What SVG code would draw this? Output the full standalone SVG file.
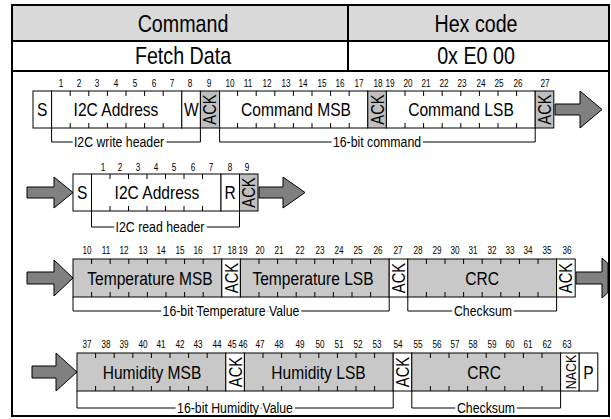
<svg xmlns="http://www.w3.org/2000/svg" width="611" height="419" viewBox="0 0 611 419">
<style>
text{font-family:"Liberation Sans",Arial,sans-serif;fill:#000;text-anchor:middle}
.hd{font-size:24px}
.num{font-size:10px}
.lbl{font-size:19px}
.ack{font-size:18px}
.bt{font-size:15px;stroke:#fff;stroke-width:6;paint-order:stroke}
.tb{fill:none;stroke:#000;stroke-width:2}
.bx{stroke:#000;stroke-width:1}
.w{fill:#fff}
.g{fill:#bfbfbf}
.d{fill:#c8c8c8}
.tk{fill:none;stroke:#000;stroke-width:1}
.br{fill:none;stroke:#000;stroke-width:1}
.ar{fill:#808080;stroke:#000;stroke-width:1}
</style>
<rect x="0" y="0" width="611" height="419" fill="#fff"/>
<g id="table">
<rect x="12" y="5" width="597" height="36" fill="#d9d9d9"/>
<text class="hd" transform="translate(183,31.5) scale(.82,1)">Command</text>
<text class="hd" transform="translate(476,31.5) scale(.82,1)">Hex code</text>
<text class="hd" transform="translate(183,64) scale(.82,1)">Fetch Data</text>
<text class="hd" transform="translate(476,64) scale(.82,1)">0x E0 00</text>
</g>

<g id="connectors">
<path class="br" d="M51.6,128 V142 H200.4 V128"/>
<path class="br" d="M219.6,128 V142 H535.2 V128"/>
<path class="br" d="M91.5,211 V227 H239.5 V211"/>
<path class="br" d="M73,297 V311 H389.2 V297"/>
<path class="br" d="M407.8,297 V311 H556.6 V297"/>
<path class="br" d="M77,391 V408 H393.2 V391"/>
<path class="br" d="M411.8,391 V408 H560.6 V391"/>
<path class="ar" d="M555,104 H580 V91 L602,109.5 L580,128 V115 H555 Z"/>
<path class="ar" d="M27,187 H54 V177 L73,192.5 L54,208 V198 H27 Z"/>
<path class="ar" d="M259,187 H283 V177 L305,192.5 L283,208 V198 H259 Z"/>
<path class="ar" d="M27,272 H54 V260 L73,278 L54,296 V284 H27 Z"/>
<path class="ar" d="M576,272 H602 V258 L608,263.5 V292.5 L602,298 V284 H576 Z"/>
<path class="ar" d="M32,366 H56 V353 L77,372 L56,391 V378 H32 Z"/>
<text class="bt" transform="translate(119,147.4) scale(.82,1)">I2C write header</text>
<text class="bt" transform="translate(377,147.4) scale(.82,1)">16-bit command</text>
<text class="bt" transform="translate(160,232.4) scale(.82,1)">I2C read header</text>
<text class="bt" transform="translate(231,316.4) scale(.82,1)">16-bit Temperature Value</text>
<text class="bt" transform="translate(483,316.4) scale(.82,1)">Checksum</text>
<text class="bt" transform="translate(235,413.4) scale(.82,1)">16-bit Humidity Value</text>
<text class="bt" transform="translate(486,413.4) scale(.82,1)">Checksum</text>
</g>

<g id="write-header">
<rect class="bx w" x="33" y="91" width="18.6" height="37"/>
<text class="lbl" transform="translate(42.3,116.3) scale(.82,1)">S</text>
<rect class="bx w" x="51.6" y="91" width="130.2" height="37"/>
<path class="tk" d="M70.2,91v5M88.8,91v5M107.4,91v5M126,91v5M144.6,91v5M163.2,91v5M70.2,128v-5M88.8,128v-5M107.4,128v-5M126,128v-5M144.6,128v-5M163.2,128v-5"/>
<text class="lbl" transform="translate(116,116.3) scale(.82,1)">I2C Address</text>
<rect class="bx w" x="181.8" y="91" width="18.6" height="37"/>
<text class="lbl" transform="translate(191.3,116.3) scale(.82,1)">W</text>
<rect class="bx g" x="200.4" y="91" width="19.2" height="37"/>
<text class="ack" transform="translate(210,109.5) rotate(-90) scale(.82,1)" dy="6.4">ACK</text>
</g>

<g id="command">
<rect class="bx w" x="219.6" y="91" width="148.2" height="37"/>
<path class="tk" d="M237.6,91v5M256.2,91v5M274.8,91v5M293.4,91v5M312,91v5M330.6,91v5M349.2,91v5M237.6,128v-5M256.2,128v-5M274.8,128v-5M293.4,128v-5M312,128v-5M330.6,128v-5M349.2,128v-5"/>
<text class="lbl" transform="translate(296,116.3) scale(.82,1)">Command MSB</text>
<rect class="bx g" x="367.8" y="91" width="18.6" height="37"/>
<text class="ack" transform="translate(377.1,109.5) rotate(-90) scale(.82,1)" dy="6.4">ACK</text>
<rect class="bx w" x="386.4" y="91" width="148.8" height="37"/>
<path class="tk" d="M405,91v5M423.6,91v5M442.2,91v5M460.8,91v5M479.4,91v5M498,91v5M516.6,91v5M405,128v-5M423.6,128v-5M442.2,128v-5M460.8,128v-5M479.4,128v-5M498,128v-5M516.6,128v-5"/>
<text class="lbl" transform="translate(461,116.3) scale(.82,1)">Command LSB</text>
<rect class="bx g" x="535.2" y="91" width="18.6" height="37"/>
<text class="ack" transform="translate(544.5,109.5) rotate(-90) scale(.82,1)" dy="6.4">ACK</text>
</g>

<g id="nums1" class="num" transform="scale(.82,1)">
<text x="74.39" y="87">1</text><text x="96.34" y="87">2</text><text x="118.29" y="87">3</text><text x="141.46" y="87">4</text><text x="164.63" y="87">5</text><text x="187.80" y="87">6</text><text x="209.76" y="87">7</text><text x="231.71" y="87">8</text><text x="254.88" y="87">9</text><text x="280.49" y="87">10</text><text x="302.44" y="87">11</text><text x="325.61" y="87">12</text><text x="348.78" y="87">13</text><text x="369.51" y="87">14</text><text x="392.68" y="87">15</text><text x="414.63" y="87">16</text><text x="437.80" y="87">17</text><text x="460.98" y="87">18</text><text x="475.61" y="87">19</text><text x="497.56" y="87">20</text><text x="519.51" y="87">21</text><text x="541.46" y="87">22</text><text x="563.41" y="87">23</text><text x="586.59" y="87">24</text><text x="608.54" y="87">25</text><text x="631.71" y="87">26</text><text x="664.63" y="87">27</text>
</g>

<g id="read-header">
<rect class="bx w" x="73" y="174" width="18.5" height="37"/>
<text class="lbl" transform="translate(82.2,199.3) scale(.82,1)">S</text>
<rect class="bx w" x="91.5" y="174" width="129.5" height="37"/>
<path class="tk" d="M110,174v5M128.5,174v5M147,174v5M165.5,174v5M184,174v5M202.5,174v5M110,211v-5M128.5,211v-5M147,211v-5M165.5,211v-5M184,211v-5M202.5,211v-5"/>
<text class="lbl" transform="translate(157,199.3) scale(.82,1)">I2C Address</text>
<rect class="bx w" x="221" y="174" width="18.5" height="37"/>
<text class="lbl" transform="translate(230.2,199.3) scale(.82,1)">R</text>
<rect class="bx g" x="239.5" y="174" width="18.5" height="37"/>
<text class="ack" transform="translate(248.8,192.5) rotate(-90) scale(.82,1)" dy="6.4">ACK</text>
</g>

<g id="nums2" class="num" transform="scale(.82,1)">
<text x="125.61" y="171">1</text><text x="146.34" y="171">2</text><text x="168.29" y="171">3</text><text x="190.24" y="171">4</text><text x="212.20" y="171">5</text><text x="235.37" y="171">6</text><text x="257.32" y="171">7</text><text x="280.49" y="171">8</text><text x="301.22" y="171">9</text>
</g>

<g id="temperature">
<rect class="bx d" x="73" y="259" width="148.8" height="38"/>
<path class="tk" d="M91.6,259v5M110.2,259v5M128.8,259v5M147.4,259v5M166,259v5M184.6,259v5M203.2,259v5M91.6,297v-5M110.2,297v-5M128.8,297v-5M147.4,297v-5M166,297v-5M184.6,297v-5M203.2,297v-5"/>
<text class="lbl" transform="translate(150,284.8) scale(.82,1)">Temperature MSB</text>
<rect class="bx w" x="221.8" y="259" width="18.6" height="38"/>
<text class="ack" transform="translate(231.1,278) rotate(-90) scale(.82,1)" dy="6.4">ACK</text>
<rect class="bx d" x="240.4" y="259" width="148.8" height="38"/>
<path class="tk" d="M259,259v5M277.6,259v5M296.2,259v5M314.8,259v5M333.4,259v5M352,259v5M370.6,259v5M259,297v-5M277.6,297v-5M296.2,297v-5M314.8,297v-5M333.4,297v-5M352,297v-5M370.6,297v-5"/>
<text class="lbl" transform="translate(313,284.8) scale(.82,1)">Temperature LSB</text>
<rect class="bx w" x="389.2" y="259" width="18.6" height="38"/>
<text class="ack" transform="translate(398.5,278) rotate(-90) scale(.82,1)" dy="6.4">ACK</text>
</g>

<g id="crc1">
<rect class="bx d" x="407.8" y="259" width="148.8" height="38"/>
<path class="tk" d="M426.4,259v5M445,259v5M463.6,259v5M482.2,259v5M500.8,259v5M519.4,259v5M538,259v5M426.4,297v-5M445,297v-5M463.6,297v-5M482.2,297v-5M500.8,297v-5M519.4,297v-5M538,297v-5"/>
<text class="lbl" transform="translate(482,284.8) scale(.82,1)">CRC</text>
<rect class="bx w" x="556.6" y="259" width="18.6" height="38"/>
<text class="ack" transform="translate(565.9,278) rotate(-90) scale(.82,1)" dy="6.4">ACK</text>
</g>

<g id="nums3" class="num" transform="scale(.82,1)">
<text x="106.10" y="254.5">10</text><text x="129.27" y="254.5">11</text><text x="151.22" y="254.5">12</text><text x="174.39" y="254.5">13</text><text x="196.34" y="254.5">14</text><text x="219.51" y="254.5">15</text><text x="241.46" y="254.5">16</text><text x="264.63" y="254.5">17</text><text x="282.93" y="254.5">18</text><text x="296.34" y="254.5">19</text><text x="317.07" y="254.5">20</text><text x="340.24" y="254.5">21</text><text x="365.85" y="254.5">22</text><text x="390.24" y="254.5">23</text><text x="413.41" y="254.5">24</text><text x="436.59" y="254.5">25</text><text x="460.98" y="254.5">26</text><text x="485.37" y="254.5">27</text><text x="509.76" y="254.5">28</text><text x="532.93" y="254.5">29</text><text x="554.88" y="254.5">30</text><text x="576.83" y="254.5">31</text><text x="600.00" y="254.5">32</text><text x="621.95" y="254.5">33</text><text x="643.90" y="254.5">34</text><text x="667.07" y="254.5">35</text><text x="691.46" y="254.5">36</text>
</g>

<g id="humidity">
<rect class="bx d" x="77" y="353" width="148.8" height="38"/>
<path class="tk" d="M95.6,353v5M114.2,353v5M132.8,353v5M151.4,353v5M170,353v5M188.6,353v5M207.2,353v5M95.6,391v-5M114.2,391v-5M132.8,391v-5M151.4,391v-5M170,391v-5M188.6,391v-5M207.2,391v-5"/>
<text class="lbl" transform="translate(152,378.8) scale(.82,1)">Humidity MSB</text>
<rect class="bx w" x="225.8" y="353" width="18.6" height="38"/>
<text class="ack" transform="translate(235.1,372) rotate(-90) scale(.82,1)" dy="6.4">ACK</text>
<rect class="bx d" x="244.4" y="353" width="148.8" height="38"/>
<path class="tk" d="M263,353v5M281.6,353v5M300.2,353v5M318.8,353v5M337.4,353v5M356,353v5M374.6,353v5M263,391v-5M281.6,391v-5M300.2,391v-5M318.8,391v-5M337.4,391v-5M356,391v-5M374.6,391v-5"/>
<text class="lbl" transform="translate(318.5,378.8) scale(.82,1)">Humidity LSB</text>
<rect class="bx w" x="393.2" y="353" width="18.6" height="38"/>
<text class="ack" transform="translate(402.5,372) rotate(-90) scale(.82,1)" dy="6.4">ACK</text>
</g>

<g id="crc2">
<rect class="bx d" x="411.8" y="353" width="148.8" height="38"/>
<path class="tk" d="M430.4,353v5M449,353v5M467.6,353v5M486.2,353v5M504.8,353v5M523.4,353v5M542,353v5M430.4,391v-5M449,391v-5M467.6,391v-5M486.2,391v-5M504.8,391v-5M523.4,391v-5M542,391v-5"/>
<text class="lbl" transform="translate(484,378.8) scale(.82,1)">CRC</text>
<rect class="bx w" x="560.6" y="353" width="18.6" height="38"/>
<text class="ack" transform="translate(569.9,372) rotate(-90) scale(.8,1)" dy="5.6" style="font-size:15.5px">NACK</text>
<rect class="bx w" x="579.2" y="353" width="18.6" height="38"/>
<text class="lbl" transform="translate(588.5,378.8) scale(.82,1)">P</text>
</g>

<g id="nums4" class="num" transform="scale(.82,1)">
<text x="106.10" y="348.5">37</text><text x="129.27" y="348.5">38</text><text x="151.22" y="348.5">39</text><text x="174.39" y="348.5">40</text><text x="196.34" y="348.5">41</text><text x="219.51" y="348.5">42</text><text x="241.46" y="348.5">43</text><text x="264.63" y="348.5">44</text><text x="282.93" y="348.5">45</text><text x="296.34" y="348.5">46</text><text x="317.07" y="348.5">47</text><text x="340.24" y="348.5">48</text><text x="365.85" y="348.5">49</text><text x="390.24" y="348.5">50</text><text x="413.41" y="348.5">51</text><text x="436.59" y="348.5">52</text><text x="459.76" y="348.5">53</text><text x="485.37" y="348.5">54</text><text x="509.76" y="348.5">55</text><text x="532.93" y="348.5">56</text><text x="554.88" y="348.5">57</text><text x="576.83" y="348.5">58</text><text x="600.00" y="348.5">59</text><text x="621.95" y="348.5">60</text><text x="643.90" y="348.5">61</text><text x="667.07" y="348.5">62</text><text x="691.46" y="348.5">63</text>
</g>

<g id="table-lines">
<rect class="tb" x="12" y="5" width="597" height="411"/>
<path class="tb" d="M12,41H609M12,71H609M348,5V71"/>
</g>
</svg>
